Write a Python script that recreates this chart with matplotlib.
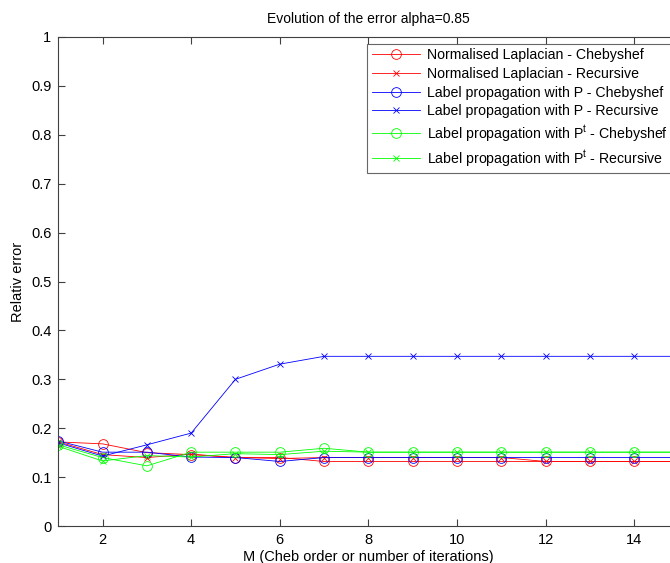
import matplotlib.pyplot as plt

plt.rcParams['font.family'] = ['Liberation Sans', 'DejaVu Sans']

M = list(range(1, 16))

lap_cheb = [0.172, 0.168, 0.150, 0.146, 0.140, 0.140, 0.132, 0.132, 0.132, 0.132, 0.132, 0.132, 0.132, 0.132, 0.132]
lap_rec = [0.172, 0.146, 0.140, 0.147, 0.140, 0.138, 0.140, 0.140, 0.140, 0.140, 0.140, 0.132, 0.132, 0.132, 0.132]
p_cheb = [0.174, 0.151, 0.151, 0.141, 0.140, 0.132, 0.140, 0.140, 0.140, 0.140, 0.140, 0.140, 0.140, 0.140, 0.140]
p_rec = [0.170, 0.143, 0.166, 0.190, 0.300, 0.331, 0.347, 0.347, 0.347, 0.347, 0.347, 0.347, 0.347, 0.347, 0.347]
pt_cheb = [0.166, 0.140, 0.123, 0.151, 0.151, 0.151, 0.159, 0.151, 0.151, 0.151, 0.151, 0.151, 0.151, 0.151, 0.151]
pt_rec = [0.163, 0.133, 0.144, 0.141, 0.148, 0.146, 0.153, 0.151, 0.151, 0.151, 0.151, 0.151, 0.151, 0.151, 0.151]

series = [
    (lap_cheb, '#ff0000', 'o', 'Normalised Laplacian - Chebyshef'),
    (lap_rec, '#ff0000', 'x', 'Normalised Laplacian - Recursive'),
    (p_cheb, '#0000ff', 'o', 'Label propagation with P - Chebyshef'),
    (p_rec, '#0000ff', 'x', 'Label propagation with P - Recursive'),
    (pt_cheb, '#00ff00', 'o', 'Label propagation with P$^\\mathregular{t}$ - Chebyshef'),
    (pt_rec, '#00ff00', 'x', 'Label propagation with P$^\\mathregular{t}$ - Recursive'),
]

fig = plt.figure(figsize=(6.7, 5.63), dpi=100)
ax = fig.add_axes([0.0869, 0.0657, 0.926, 0.8686])

for vals, col, mk, lab in series:
    ax.plot(M, vals, color=col, marker=mk, markersize=7 if mk == 'o' else 5,
            markerfacecolor='none', markeredgewidth=0.6, linewidth=0.6, label=lab)

ax.set_xlim(1, 15)
ax.set_ylim(0, 1)
ax.set_xticks(range(2, 15, 2))
yt = [i / 10 for i in range(11)]
ax.set_yticks(yt)
ax.set_yticklabels(['0' if v == 0 else ('1' if v == 1 else '%.1f' % v) for v in yt])
ax.tick_params(direction='in', length=5, width=0.8, color='#404040',
               top=True, right=True, labelsize=10.5, pad=5)
for s in ax.spines.values():
    s.set_color('#404040')
    s.set_linewidth(0.8)

ax.set_title('Evolution of the error alpha=0.85', fontsize=10, pad=10)
ax.set_xlabel('M (Cheb order or number of iterations)', fontsize=10.5, labelpad=2)
ax.set_ylabel('Relativ error', fontsize=10.5, labelpad=4)

leg = ax.legend(loc='upper right', bbox_to_anchor=(672 / 670, 1 - 44 / 563),
                bbox_transform=fig.transFigure, fontsize=10.2, frameon=True,
                fancybox=False, edgecolor='#404040', borderaxespad=0,
                handlelength=3.4, labelspacing=0.33, borderpad=0.3, handletextpad=0.5)
leg.get_frame().set_linewidth(0.8)

fig.savefig('out.png', dpi=100)
